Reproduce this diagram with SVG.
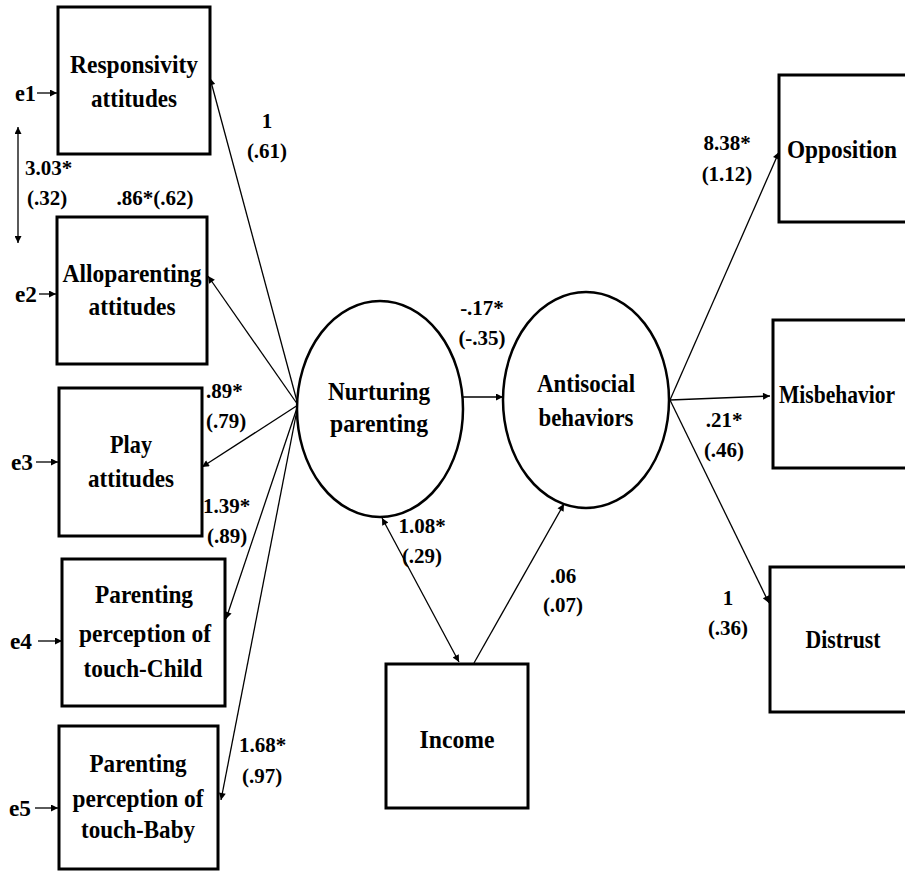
<svg xmlns="http://www.w3.org/2000/svg" width="905" height="872" viewBox="0 0 905 872">
<defs>
<marker id="ah" viewBox="0 0 10 10" refX="10" refY="5" markerWidth="9" markerHeight="7" markerUnits="userSpaceOnUse" orient="auto-start-reverse">
<path d="M0,0 L10,5 L0,10 Z" fill="#000"/>
</marker>
<style>
.box{fill:#fff;stroke:#000;stroke-width:3}
.ell{fill:#fff;stroke:#000;stroke-width:2.5}
.ln{fill:none;stroke:#000;stroke-width:1.3}
.arr{marker-end:url(#ah)}
.dbl{marker-start:url(#ah);marker-end:url(#ah)}
text{font-family:"Liberation Serif","Times New Roman",serif;font-weight:bold;fill:#000}
.nt{font-size:25px;text-anchor:middle}
.lb{font-size:21px}
.lbc{font-size:21px;text-anchor:middle}
.el{font-size:23px}
</style>
</defs>
<rect width="905" height="872" fill="#fff"/>

<g id="connectors">
<line class="ln arr" x1="298" y1="405" x2="210" y2="78"/>
<line class="ln arr" x1="298" y1="405" x2="208" y2="276"/>
<line class="ln arr" x1="298" y1="405" x2="202" y2="467"/>
<line class="ln arr" x1="298" y1="405" x2="226" y2="619"/>
<line class="ln arr" x1="298" y1="405" x2="221" y2="800"/>
<line class="ln arr" x1="463" y1="397" x2="503" y2="397"/>
<line class="ln arr" x1="670" y1="400" x2="779" y2="152"/>
<line class="ln arr" x1="670" y1="400" x2="770" y2="396"/>
<line class="ln arr" x1="670" y1="400" x2="769" y2="603"/>
<line class="ln dbl" x1="382" y1="518" x2="459" y2="662"/>
<line class="ln arr" x1="474" y1="663" x2="564" y2="504"/>
<line class="ln dbl" x1="18" y1="127" x2="18" y2="243"/>
<line class="ln arr" x1="37" y1="93" x2="57" y2="93"/>
<line class="ln arr" x1="39" y1="294" x2="56" y2="294"/>
<line class="ln arr" x1="36" y1="462" x2="58" y2="462"/>
<line class="ln arr" x1="38" y1="641" x2="62" y2="641"/>
<line class="ln arr" x1="35" y1="808" x2="58" y2="808"/>
</g>

<g id="n_responsivity">
<rect class="box" x="58" y="7" width="152" height="147"/>
<text class="nt" x="134" y="73" textLength="128" lengthAdjust="spacingAndGlyphs">Responsivity</text>
<text class="nt" x="134" y="107" textLength="86" lengthAdjust="spacingAndGlyphs">attitudes</text>
</g>
<g id="n_alloparenting">
<rect class="box" x="57" y="217" width="150" height="147"/>
<text class="nt" x="132" y="282" textLength="139" lengthAdjust="spacingAndGlyphs">Alloparenting</text>
<text class="nt" x="132" y="315" textLength="87" lengthAdjust="spacingAndGlyphs">attitudes</text>
</g>
<g id="n_play">
<rect class="box" x="59" y="388" width="143" height="148"/>
<text class="nt" x="131" y="453" textLength="42" lengthAdjust="spacingAndGlyphs">Play</text>
<text class="nt" x="131" y="487" textLength="86" lengthAdjust="spacingAndGlyphs">attitudes</text>
</g>
<g id="n_touch_child">
<rect class="box" x="62" y="559" width="163" height="147"/>
<text class="nt" x="144" y="603" textLength="98" lengthAdjust="spacingAndGlyphs">Parenting</text>
<text class="nt" x="145" y="642" textLength="132" lengthAdjust="spacingAndGlyphs">perception of</text>
<text class="nt" x="143" y="677" textLength="119" lengthAdjust="spacingAndGlyphs">touch-Child</text>
</g>
<g id="n_touch_baby">
<rect class="box" x="59" y="726" width="159" height="143"/>
<text class="nt" x="138" y="772" textLength="97" lengthAdjust="spacingAndGlyphs">Parenting</text>
<text class="nt" x="138" y="807" textLength="131" lengthAdjust="spacingAndGlyphs">perception of</text>
<text class="nt" x="138" y="838" textLength="114" lengthAdjust="spacingAndGlyphs">touch-Baby</text>
</g>
<g id="n_nurturing">
<ellipse class="ell" cx="380" cy="409" rx="83" ry="108"/>
<text class="nt" x="379" y="400" textLength="102" lengthAdjust="spacingAndGlyphs">Nurturing</text>
<text class="nt" x="379" y="432" textLength="98" lengthAdjust="spacingAndGlyphs">parenting</text>
</g>
<g id="n_antisocial">
<ellipse class="ell" cx="586" cy="400" rx="83" ry="108"/>
<text class="nt" x="586" y="392" textLength="98" lengthAdjust="spacingAndGlyphs">Antisocial</text>
<text class="nt" x="586" y="426" textLength="95" lengthAdjust="spacingAndGlyphs">behaviors</text>
</g>
<g id="n_income">
<rect class="box" x="386" y="664" width="142" height="144"/>
<text class="nt" x="457" y="748" textLength="75" lengthAdjust="spacingAndGlyphs">Income</text>
</g>
<g id="n_opposition">
<rect class="box" x="779" y="75" width="130" height="147"/>
<text class="nt" x="842" y="158" textLength="110" lengthAdjust="spacingAndGlyphs">Opposition</text>
</g>
<g id="n_misbehavior">
<rect class="box" x="773" y="320" width="136" height="148"/>
<text class="nt" x="837" y="403" textLength="116" lengthAdjust="spacingAndGlyphs">Misbehavior</text>
</g>
<g id="n_distrust">
<rect class="box" x="770" y="567" width="139" height="145"/>
<text class="nt" x="843" y="648" textLength="75" lengthAdjust="spacingAndGlyphs">Distrust</text>
</g>

<g id="errors">
<text class="el" x="15" y="101" textLength="21" lengthAdjust="spacingAndGlyphs">e1</text>
<text class="el" x="15" y="302" textLength="22" lengthAdjust="spacingAndGlyphs">e2</text>
<text class="el" x="11" y="470" textLength="22" lengthAdjust="spacingAndGlyphs">e3</text>
<text class="el" x="10" y="649" textLength="22" lengthAdjust="spacingAndGlyphs">e4</text>
<text class="el" x="9" y="816" textLength="22" lengthAdjust="spacingAndGlyphs">e5</text>
</g>

<g id="labels">
<text class="lbc" x="267" y="128">1</text>
<text class="lbc" x="267" y="158">(.61)</text>
<text class="lb" x="25" y="175">3.03*</text>
<text class="lb" x="27" y="205">(.32)</text>
<text class="lbc" x="155" y="205">.86*(.62)</text>
<text class="lb" x="206" y="398">.89*</text>
<text class="lb" x="206" y="428">(.79)</text>
<text class="lb" x="203" y="513">1.39*</text>
<text class="lb" x="207" y="543">(.89)</text>
<text class="lb" x="239" y="752">1.68*</text>
<text class="lb" x="242" y="783">(.97)</text>
<text class="lbc" x="482" y="315">-.17*</text>
<text class="lbc" x="482" y="345">(-.35)</text>
<text class="lbc" x="422" y="533">1.08*</text>
<text class="lbc" x="422" y="563">(.29)</text>
<text class="lbc" x="563" y="583">.06</text>
<text class="lbc" x="563" y="612">(.07)</text>
<text class="lbc" x="727" y="150">8.38*</text>
<text class="lbc" x="727" y="181">(1.12)</text>
<text class="lbc" x="724" y="427">.21*</text>
<text class="lbc" x="724" y="457">(.46)</text>
<text class="lbc" x="728" y="605">1</text>
<text class="lbc" x="728" y="635">(.36)</text>
</g>
</svg>
